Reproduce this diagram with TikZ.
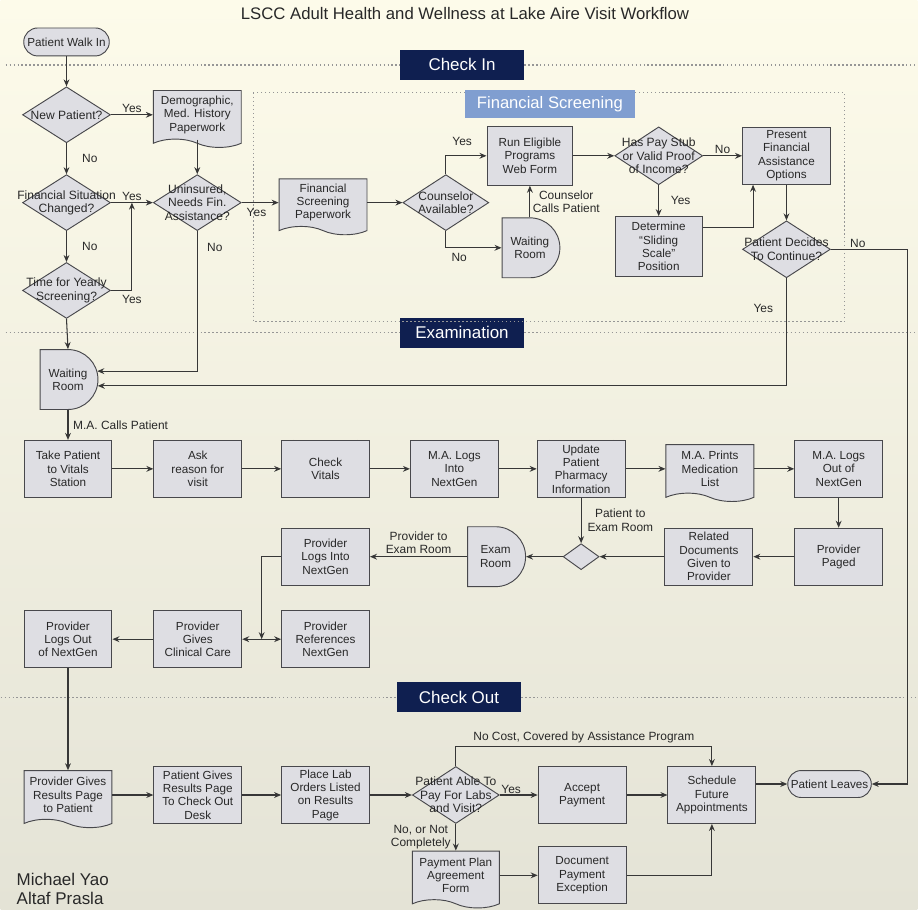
\documentclass[tikz,border=0pt]{standalone}
\usepackage{fontspec}
\setmainfont{Liberation Sans}
\usetikzlibrary{shapes.geometric, shapes.misc, shapes.symbols, arrows.meta, positioning, calc}
\definecolor{bgtop}{RGB}{253,251,234}
\definecolor{bgmid}{RGB}{247,246,229}
\definecolor{bgbot}{RGB}{228,227,214}
\definecolor{boxfill}{RGB}{222,222,227}
\definecolor{boxline}{RGB}{72,72,76}
\definecolor{wire}{RGB}{55,55,55}
\definecolor{navy}{RGB}{15,31,80}
\definecolor{fsblue}{RGB}{128,158,208}
\definecolor{dotgrey}{RGB}{150,150,150}
\definecolor{ink}{RGB}{40,40,40}
\tikzset{
    box/.style={
        rectangle, draw=boxline, fill=boxfill, line width=0.8pt,
        minimum width=2.64cm, minimum height=1.71cm, inner sep=1pt,
        align=center, text=ink, font=\fontsize{10}{11.4}\selectfont
    },
    subproc/.style={
        box,
        append after command={\pgfextra{
            \draw[boxline, line width=0.8pt]
                ([xshift=0.37cm]\tikzlastnode.north west) -- ([xshift=0.37cm]\tikzlastnode.south west)
                ([xshift=-0.37cm]\tikzlastnode.north east) -- ([xshift=-0.37cm]\tikzlastnode.south east);
        }}
    },
    doc/.style={
        box, tape, tape bend top=none, tape bend bottom=out and in,
        tape bend height=0.25cm
    },
    decision/.style={
        diamond, draw=boxline, fill=boxfill, line width=0.8pt,
        minimum width=2.64cm, minimum height=1.68cm, inner sep=0pt
    },
    dtext/.style={align=center, text=ink, inner sep=0pt, font=\fontsize{10.3}{11.4}\selectfont},
    delay/.style={
        box, rounded rectangle, rounded rectangle left arc=none,
        minimum width=1.77cm, minimum height=1.8cm
    },
    terminal/.style={
        box, rounded rectangle, minimum width=2.64cm, minimum height=0.84cm
    },
    phase/.style={
        rectangle, fill=navy, text=white, minimum width=3.72cm, minimum height=0.9cm,
        font=\fontsize{14.5}{16}\selectfont
    },
    phaseline/.style={dotgrey, line width=1pt, dash pattern=on 1.2pt off 2.2pt},
    lbl/.style={text=ink, inner sep=1pt, align=center, font=\fontsize{10.2}{11.6}\selectfont},
    arrow/.style={->, >={Stealth[length=6pt, width=5pt]}, draw=wire, line width=0.9pt}
}

\begin{document}
\begin{tikzpicture}[x=0.03cm, y=-0.03cm]

% ── Background & title ───────────────────────────────────────────────────────
\shade[top color=bgtop, middle color=bgmid, bottom color=bgbot] (0,0) rectangle (918,911);
\node[text=ink, font=\fontsize{14.3}{16}\selectfont] (title) at (465,14)
    {LSCC Adult Health and Wellness at Lake Aire Visit Workflow};

% ── Phase headers ────────────────────────────────────────────────────────────
\node[phase] (checkin) at (462,65) {Check In};
\draw[phaseline] (5,65) -- (checkin.west);
\draw[phaseline] (checkin.east) -- (918,65);

\node[phase] (exam) at (462,333) {Examination};
\draw[phaseline] (5,333) -- (exam.west);
\draw[phaseline] (exam.east) -- (918,333);

\node[phase] (checkout) at (459,698) {Check Out};
\draw[phaseline] (0,698) -- (checkout.west);
\draw[phaseline] (checkout.east) -- (918,698);

\draw[phaseline] (253,93) rectangle (845,322);
\node[rectangle, fill=fsblue, text=white, minimum width=5.1cm, minimum height=0.84cm,
      font=\fontsize{14.2}{16}\selectfont] (finlabel) at (550,104) {Financial Screening};

% ── Check In ─────────────────────────────────────────────────────────────────
\node[terminal] (walkin) at (66,42) {Patient Walk In};
\node[decision, below=0.9cm of walkin, label={[dtext]center:New Patient?}] (newpat) {};
\node[decision, below=0.93cm of newpat,
      label={[dtext]center:{Financial Situation\\Changed?}}] (finchg) {};
\node[decision, below=0.93cm of finchg,
      label={[dtext]center:{Time for Yearly\\Screening?}}] (yearly) {};
\node[doc, right=1.26cm of newpat] (demo) {Demographic,\\Med. History\\Paperwork};
\node[decision, right=1.26cm of finchg,
      label={[dtext]center:{Uninsured,\\Needs Fin.\\Assistance?}}] (unins) {};

% ── Financial Screening ──────────────────────────────────────────────────────
\node[doc, right=1.11cm of unins, minimum height=1.68cm] (finscr) {Financial\\Screening\\Paperwork};
\node[decision, minimum width=2.58cm, right=1.05cm of finscr,
      label={[dtext]center:{Counselor\\Available?}}] (counsel) {};
\node[subproc, minimum width=2.58cm, minimum height=1.77cm] (runweb) at (530,156)
    {Run Eligible\\Programs\\Web Form};
\node[delay, below=0.95cm of runweb] (waitfin) {Waiting\\Room};
\node[decision, minimum height=1.74cm, right=1.23cm of runweb,
      label={[dtext]center:{Has Pay Stub\\or Valid Proof\\of Income?}}] (paystub) {};
\node[box, right=1.17cm of paystub] (present) {Present\\Financial\\Assistance\\Options};
\node[subproc, minimum width=2.61cm, minimum height=1.8cm, below=0.93cm of paystub] (sliding)
    {Determine\\``Sliding\\Scale''\\Position};
\node[decision, minimum height=1.71cm, below=1.07cm of present,
      label={[dtext]center:{Patient Decides\\To Continue?}}] (decide) {};

% ── Examination ──────────────────────────────────────────────────────────────
\node[delay] (waitexam) at (67.5,380) {Waiting\\Room};
\node[box, below=0.9cm of waitexam] (take) {Take Patient\\to Vitals\\Station};
\node[box, right=1.23cm of take] (ask) {Ask\\reason for\\visit};
\node[subproc, right=1.17cm of ask] (vitals) {Check\\Vitals};
\node[box, right=1.2cm of vitals] (malogin) {M.A. Logs\\Into\\NextGen};
\node[subproc, right=1.14cm of malogin] (update) {Update\\Patient\\Pharmacy\\Information};
\node[doc, right=1.2cm of update] (prints) {M.A. Prints\\Medication\\List};
\node[box, right=1.2cm of prints] (malogout) {M.A. Logs\\Out of\\NextGen};

\node[box, below=0.9cm of malogout] (paged) {Provider\\Paged};
\node[box, left=1.23cm of paged] (related) {Related\\Documents\\Given to\\Provider};
\node[decision, minimum width=1.08cm, minimum height=0.78cm] (junc) at (update.south |- related) {};
\node[delay, minimum width=1.71cm, left=1.1cm of junc] (examroom) {Exam\\Room};
\node[box, below=0.9cm of vitals] (provlogin) {Provider\\Logs Into\\NextGen};

\node[box, below=0.74cm of provlogin] (references) {Provider\\References\\NextGen};
\node[box, left=1.17cm of references] (clinical) {Provider\\Gives\\Clinical Care};
\node[box, left=1.23cm of clinical] (logsout) {Provider\\Logs Out\\of NextGen};
\coordinate (split) at ($(clinical.east)!0.5!(references.west)$);

% ── Check Out ────────────────────────────────────────────────────────────────
\node[doc] (results) at (logsout |- 0,796) {Provider Gives\\Results Page\\to Patient};
\node[box, right=1.23cm of results] (patgives) {Patient Gives\\Results Page\\To Check Out\\Desk};
\node[box, right=1.17cm of patgives] (placelab) {Place Lab\\Orders Listed\\on Results\\Page};
\node[decision, minimum width=2.61cm, minimum height=1.71cm, right=1.26cm of placelab,
      label={[dtext]center:{Patient Able To\\Pay For Labs\\and Visit?}}] (able) {};
\node[box, right=1.14cm of able] (accept) {Accept\\Payment};
\node[box, right=1.23cm of accept] (schedule) {Schedule\\Future\\Appointments};
\node[terminal, minimum width=2.58cm, minimum height=0.81cm] (leaves) at (830,785) {Patient Leaves};
\node[doc, minimum width=2.61cm, below=0.8cm of able] (payplan) {Payment Plan\\Agreement\\Form};
\node[box] (docexc) at (accept |- payplan) {Document\\Payment\\Exception};

\node[anchor=west, align=left, text=ink, font=\fontsize{14.5}{17}\selectfont]
    (credit) at (12,890) {Michael Yao\\Altaf Prasla};

% ── Arrows: Check In ─────────────────────────────────────────────────────────
\coordinate (yesjoin) at ($(finchg.east)!0.5!(unins.west)$);
\draw[arrow] (walkin.south) -- (newpat.north);
\draw[arrow] (newpat.east) -- node[lbl, above] {Yes} (demo.west);
\draw[arrow] (newpat.south) -- node[lbl, right=12pt] {No} (finchg.north);
\draw[arrow] (demo.south) -- (unins.north);
\draw[arrow] (finchg.east) -- node[lbl, above] {Yes} (unins.west);
\draw[arrow] (finchg.south) -- node[lbl, right=12pt] {No} (yearly.north);
\draw[arrow] (yearly.east) -| node[lbl, below=3pt, pos=0.5] {Yes} (yesjoin);
\draw[arrow] (unins.east) -- node[lbl, below=3pt, pos=0.4] {Yes} (finscr.west);
\draw[arrow] (unins.south) |- node[lbl, right=7pt, pos=0.06] {No} (waitexam.16);
\draw[arrow] (yearly.south) -- (waitexam.north);

% ── Arrows: Financial Screening ──────────────────────────────────────────────
\coordinate (rtrail) at ($(decide.east)+(77,0)$);
\draw[arrow] (finscr.east) -- (counsel.west);
\draw[arrow] (counsel.north) |- node[lbl, above=7pt, pos=0.7] {Yes} (runweb.west);
\draw[arrow] (counsel.south) |- node[lbl, below=3pt, pos=0.62] {No} (waitfin.west);
\draw[arrow] (waitfin.north) -- node[lbl, right=1pt] {Counselor\\Calls Patient} (runweb.south);
\draw[arrow] (runweb.east) -- (paystub.west);
\draw[arrow] (paystub.east) -- node[lbl, above] {No} (present.west);
\draw[arrow] (paystub.south) -- node[lbl, right=9pt] {Yes} (sliding.north);
\draw[arrow] ([yshift=0.57cm]sliding.east) -| ([xshift=0.33cm]present.south west);
\draw[arrow] (present.south) -- (decide.north);
\draw[arrow] (decide.south) |- node[lbl, left=10pt, pos=0.14] {Yes} (waitexam.-12);
\draw[arrow] (decide.east) -- node[lbl, above, pos=0.35] {No} (rtrail) |- (leaves.east);

% ── Arrows: Examination ──────────────────────────────────────────────────────
\draw[arrow] (waitexam.south) -- node[lbl, right=3pt] {M.A. Calls Patient} (take.north);
\draw[arrow] (take.east) -- (ask.west);
\draw[arrow] (ask.east) -- (vitals.west);
\draw[arrow] (vitals.east) -- (malogin.west);
\draw[arrow] (malogin.east) -- (update.west);
\draw[arrow] (update.east) -- (prints.west);
\draw[arrow] (prints.east) -- (malogout.west);
\draw[arrow] (malogout.south) -- (paged.north);
\draw[arrow] (paged.west) -- (related.east);
\draw[arrow] (related.west) -- (junc.east);
\draw[arrow] (update.south) -- node[lbl, right=4pt] {Patient to\\Exam Room} (junc.north);
\draw[arrow] (junc.west) -- (examroom.east);
\draw[arrow] (examroom.west) -- node[lbl, above=1pt] {Provider to\\Exam Room} (provlogin.east);
\draw[arrow] (provlogin.west) -| (split);
\draw[arrow] (split) -- (clinical.east);
\draw[arrow] (split) -- (references.west);
\draw[arrow] (clinical.west) -- (logsout.east);
\draw[arrow] (logsout.south) -- (results.north);

% ── Arrows: Check Out ────────────────────────────────────────────────────────
\draw[arrow] (results.east) -- (patgives.west);
\draw[arrow] (patgives.east) -- (placelab.west);
\draw[arrow] (placelab.east) -- (able.west);
\draw[arrow] (able.east) -- node[lbl, above, pos=0.3] {Yes} (accept.west);
\draw[arrow] (able.north) |- node[lbl, above=1pt, pos=0.75] {No Cost, Covered by Assistance Program}
    ([yshift=0.6cm]schedule.north) -- (schedule.north);
\draw[arrow] (able.south) -- node[lbl, left=3pt] {No, or Not\\Completely} (payplan.north);
\draw[arrow] (accept.east) -- (schedule.west);
\draw[arrow] (payplan.east) -- (docexc.west);
\draw[arrow] (docexc.east) -| (schedule.south);
\draw[arrow] (schedule.east |- leaves.west) -- (leaves.west);

\end{tikzpicture}
\end{document}
